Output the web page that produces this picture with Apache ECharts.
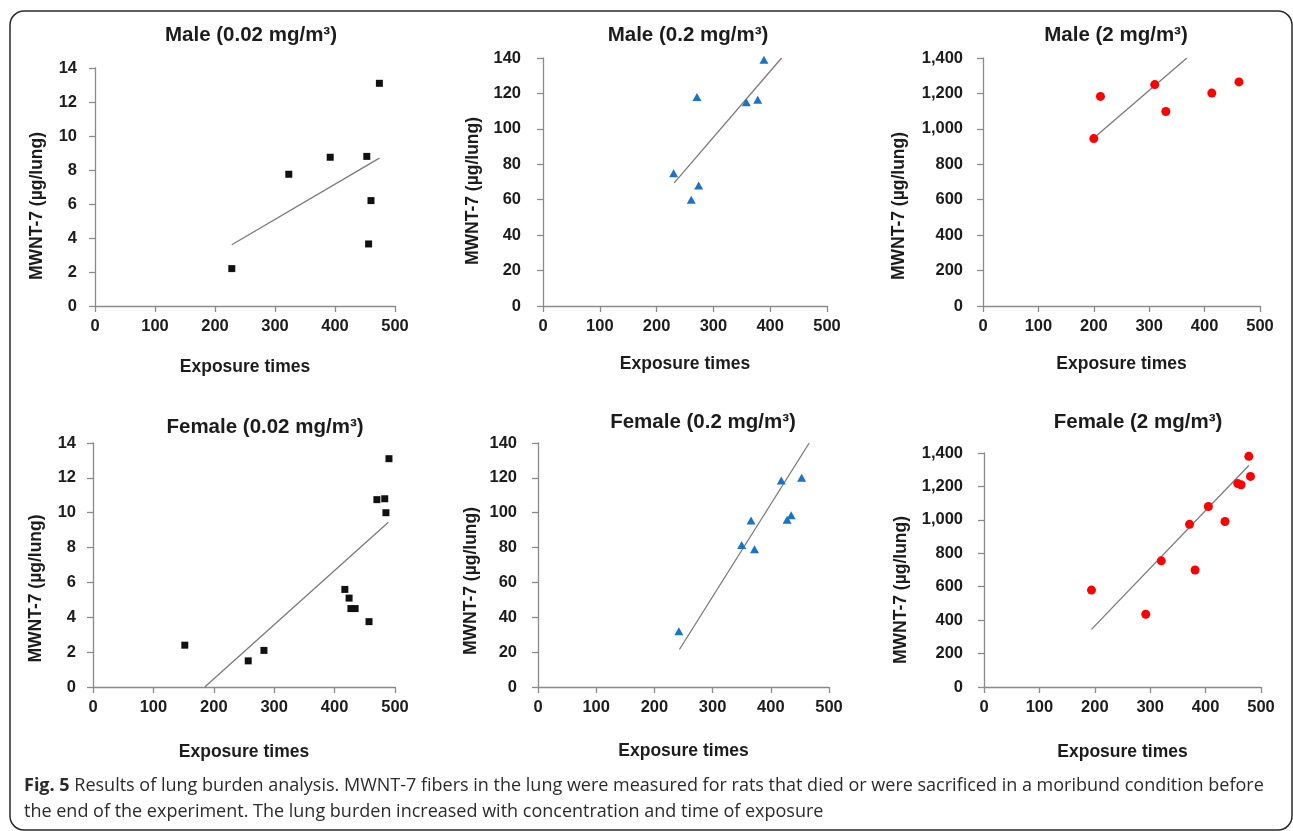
<!DOCTYPE html>
<html>
<head>
<meta charset="utf-8">
<title>Lung burden analysis</title>
<script src="https://cdn.jsdelivr.net/npm/echarts@6/dist/echarts.min.js"></script>
<style>
	html, body { margin: 0; padding: 0; background: #fff; }
	#chart { width: 1293px; height: 831px; }
</style>
</head>
<body>
<div id="chart"></div>
<script>
// values: exposure times (x) vs MWNT-7 lung burden (y)
var maleLowX = [228, 323, 392, 453, 460, 456, 474];
var maleLowY = [2.2, 7.75, 8.75, 8.8, 6.2, 3.65, 13.1];
var maleLowTrend = [[228, 3.6], [474, 8.7]];

var maleMidX = [230, 271, 261, 274, 358, 378, 389];
var maleMidY = [75, 118, 60, 68, 115, 116.5, 139];
var maleMidTrend = [[231, 69.5], [420, 140]];

var maleHighX = [200, 212, 310, 330, 413, 462];
var maleHighY = [945, 1183, 1250, 1098, 1202, 1265];
var maleHighTrend = [[200, 948], [368, 1400]];

var femaleLowX = [152, 257, 283, 417, 424, 427, 434, 457, 470, 483, 485, 490];
var femaleLowY = [2.4, 1.5, 2.1, 5.6, 5.1, 4.5, 4.5, 3.75, 10.75, 10.8, 10, 13.1];
var femaleLowTrend = [[185, 0], [489, 9.45]];

var femaleMidX = [242, 350, 366, 372, 418, 428, 435, 453];
var femaleMidY = [32, 81.5, 95.5, 79, 118.5, 96, 98.5, 120];
var femaleMidTrend = [[243, 21.5], [466, 140]];

var femaleHighX = [194, 292, 320, 371, 381, 405, 435, 458, 464, 478, 481];
var femaleHighY = [580, 435, 755, 973, 700, 1080, 990, 1217, 1210, 1380, 1260];
var femaleHighTrend = [[194, 345], [478, 1325]];

var panelTitles = [
	'Male (0.02 mg/m³)', 'Male (0.2 mg/m³)', 'Male (2 mg/m³)',
	'Female (0.02 mg/m³)', 'Female (0.2 mg/m³)', 'Female (2 mg/m³)'
];
var xMax = 500, xStep = 100;
var yMax = [14, 140, 1400, 14, 140, 1400];
var yStep = [2, 20, 200, 2, 20, 200];
var xName = 'Exposure times';
var yName = 'MWNT-7 (µg/lung)';
var caption = '{b|Fig. 5} Results of lung burden analysis. MWNT-7 fibers in the lung were measured for rats that died or were sacrificed in a moribund condition before\nthe end of the experiment. The lung burden increased with concentration and time of exposure';

var panelX = [maleLowX, maleMidX, maleHighX, femaleLowX, femaleMidX, femaleHighX];
var panelY = [maleLowY, maleMidY, maleHighY, femaleLowY, femaleMidY, femaleHighY];
var panelTrend = [maleLowTrend, maleMidTrend, maleHighTrend, femaleLowTrend, femaleMidTrend, femaleHighTrend];

// layout of each panel, in px
var grids = [
	[95, 68, 300, 238], [543, 58, 284, 248], [983, 58, 277, 248],
	[93, 443, 302, 244], [538, 443, 291, 244], [984, 453, 277, 234]
];
var titlePos = [[251, 35.5], [688, 35.5], [1116, 35.5], [265, 427], [703, 422], [1138, 422]];
var yNameGap = [49, 61, 75, 48, 58, 74];
var yNameShift = [38, 18, 48, 47, 32, 40];
var yLabelMargin = [18, 22, 20, 17, 21, 21];
var xNameGap = [52, 49, 49, 56, 55, 56];

var symbols = ['rect', 'triangle', 'circle', 'rect', 'triangle', 'circle'];
var symbolSizes = [7, [9, 8], 9, 7, [9, 8], 9];
var colors = ['#111111', '#1a73c4', '#ff0000', '#111111', '#1a73c4', '#ff0000'];

var axisColor = '#8a8a8a';
var textColor = '#1c1c1c';
var font = 'Liberation Sans, Arial, sans-serif';

var chart = echarts.init(document.getElementById('chart'));

var option = {
	backgroundColor: '#fff',
	animation: false,
	grid: [],
	xAxis: [],
	yAxis: [],
	series: [],
	graphic: []
};

for (var i = 0; i < 6; i++) {
	var g = grids[i];
	option.grid.push({left: g[0], top: g[1], width: g[2], height: g[3], containLabel: false});
	option.xAxis.push({
		gridIndex: i,
		type: 'value',
		min: 0,
		max: xMax,
		interval: xStep,
		name: xName,
		nameLocation: 'middle',
		nameGap: xNameGap[i],
		nameTextStyle: {color: textColor, fontFamily: font, fontWeight: 'bold', fontSize: 17.5},
		splitLine: {show: false},
		axisLine: {onZero: false, lineStyle: {color: axisColor, width: 1.3}},
		axisTick: {length: 6, lineStyle: {color: axisColor, width: 1.3}},
		axisLabel: {margin: 12, color: textColor, fontFamily: font, fontWeight: 'bold', fontSize: 16.5}
	});
	option.yAxis.push({
		gridIndex: i,
		type: 'value',
		min: 0,
		max: yMax[i],
		interval: yStep[i],
		name: yName,
		nameLocation: 'middle',
		nameGap: yNameGap[i],
		nameTextStyle: {
			color: textColor, fontFamily: font, fontWeight: 'bold', fontSize: 17.5,
			padding: [0, yNameShift[i], 0, 0]
		},
		splitLine: {show: false},
		axisLine: {show: true, onZero: false, lineStyle: {color: axisColor, width: 1.3}},
		axisTick: {show: true, length: 6, lineStyle: {color: axisColor, width: 1.3}},
		axisLabel: {
			margin: yLabelMargin[i], color: textColor, fontFamily: font, fontWeight: 'bold', fontSize: 16.5,
			formatter: function (v) { return v.toLocaleString('en-US'); }
		}
	});

	var pts = [];
	for (var k = 0; k < panelX[i].length; k++) {
		pts.push([panelX[i][k], panelY[i][k]]);
	}
	option.series.push({
		type: 'line',
		xAxisIndex: i,
		yAxisIndex: i,
		data: panelTrend[i],
		symbol: 'none',
		silent: true,
		z: 1,
		lineStyle: {color: '#7a7a7a', width: 1.3}
	});
	option.series.push({
		type: 'scatter',
		xAxisIndex: i,
		yAxisIndex: i,
		data: pts,
		symbol: symbols[i],
		symbolSize: symbolSizes[i],
		z: 3,
		itemStyle: {color: colors[i], opacity: 1}
	});

	option.graphic.push({
		type: 'text',
		x: titlePos[i][0],
		y: titlePos[i][1],
		style: {
			text: panelTitles[i],
			align: 'center',
			verticalAlign: 'middle',
			fill: textColor,
			font: 'bold 20.5px ' + font
		}
	});
}

// frame round the figure
option.graphic.push({
	type: 'rect',
	shape: {x: 10, y: 11, width: 1282, height: 819, r: 14},
	style: {fill: 'none', stroke: '#2a2a2a', lineWidth: 1.5},
	z: -1
});

// figure caption
option.graphic.push({
	type: 'text',
	x: 24,
	y: 773,
	style: {
		text: caption,
		fill: '#2b2b2b',
		fontFamily: 'Open Sans',
		fontSize: 18,
		lineHeight: 26,
		verticalAlign: 'top',
		rich: {
			b: {fontFamily: 'Open Sans', fontWeight: 'bold', fontSize: 18, lineHeight: 26, fill: '#2b2b2b'}
		}
	}
});

chart.setOption(option);
</script>
</body>
</html>
